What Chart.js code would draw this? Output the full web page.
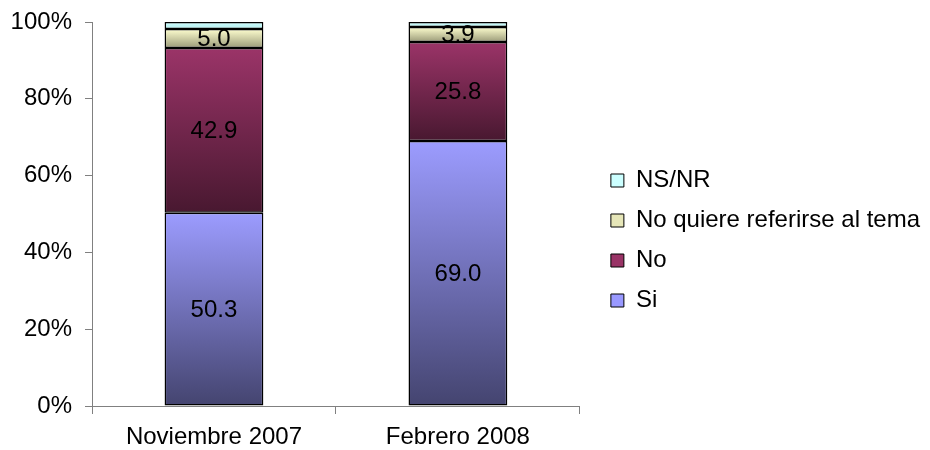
<!DOCTYPE html>
<html>
<head>
<meta charset="utf-8">
<script src="https://cdn.jsdelivr.net/npm/chart.js@4"></script>
<style>
  html, body { margin: 0; padding: 0; background: #fff; }
  #wrap { width: 930px; height: 450px; }
</style>
</head>
<body>
<div id="wrap"><canvas id="encuesta"></canvas></div>
<script>
const categorias = ["Noviembre 2007", "Febrero 2008"];
const si = [50.3, 69.0];
const no = [42.9, 25.8];
const noQuiere = [5.0, 3.9];
const nsnr = [1.8, 1.3];
const yTicks = [0, 20, 40, 60, 80, 100];

const FONT = "'Liberation Sans', Arial, sans-serif";
const series = [si, no, noQuiere, nsnr];
// gradient top -> bottom for each series
const colores = [
    ["#9c9cff", "#44446f"],
    ["#9b3468", "#481830"],
    ["#ffffd0", "#9a9a78"],
    ["#ccffff", "#b8eeee"],
];
const legendColors = ["#9999ff", "#993366", "#e6e6b8", "#ccffff"];

function gradiente(ctx) {
    const chart = ctx.chart;
    const i = ctx.datasetIndex;
    const j = ctx.dataIndex;
    const y = chart.scales && chart.scales.y;
    if (ctx.type !== "data" || !y || y.top === undefined) return legendColors[i];
    let base = 0;
    for (let k = 0; k < i; k++) base += series[k][j];
    const top = y.getPixelForValue(base + series[i][j]);
    const bottom = y.getPixelForValue(base);
    const g = chart.ctx.createLinearGradient(0, top, 0, bottom);
    g.addColorStop(0, colores[i][0]);
    g.addColorStop(1, colores[i][1]);
    return g;
}

const etiquetas = {
    id: "etiquetas",
    afterDatasetsDraw(chart) {
        const c = chart.ctx;
        c.save();
        c.font = "24px " + FONT;
        c.fillStyle = "#000";
        c.textAlign = "center";
        c.textBaseline = "middle";
        chart.data.datasets.forEach((ds, i) => {
            if (i === 3) return;
            chart.getDatasetMeta(i).data.forEach((bar, j) => {
                const yc = (bar.y + bar.base) / 2;
                c.fillText(ds.data[j].toFixed(1), bar.x, yc + 1);
            });
        });
        c.restore();
    },
};

const mkDs = (label, data) => ({
    label: label,
    data: data,
    backgroundColor: gradiente,
    borderColor: "#000",
    borderWidth: 1.5,
    borderSkipped: false,
    inflateAmount: 0,
    categoryPercentage: 1,
    barPercentage: 0.405,
});

new Chart(document.getElementById("encuesta").getContext("2d"), {
    type: "bar",
    data: {
        labels: categorias,
        datasets: [
            mkDs("Si", si),
            mkDs("No", no),
            mkDs("No quiere referirse al tema", noQuiere),
            mkDs("NS/NR", nsnr),
        ],
    },
    options: {
        responsive: true,
        maintainAspectRatio: false,
        animation: false,
        layout: { padding: 0 },
        scales: {
            x: {
                stacked: true,
                grid: {
                    offset: true,
                    drawOnChartArea: false,
                    tickLength: 8,
                    color: "#808080",
                },
                border: { color: "#808080", width: 1 },
                ticks: {
                    color: "#000",
                    padding: 9,
                    font: { size: 24, family: FONT },
                },
                afterFit: (axis) => {
                    axis.height = 44;
                },
            },
            y: {
                stacked: true,
                min: 0,
                max: 100,
                afterBuildTicks: (axis) => {
                    axis.ticks = yTicks.map((v) => ({ value: v }));
                },
                grid: {
                    drawOnChartArea: false,
                    tickLength: 7,
                    color: "#808080",
                },
                border: { color: "#808080", width: 1 },
                ticks: {
                    color: "#000",
                    padding: 13,
                    callback: (v) => v + "%",
                    font: { size: 24, family: FONT },
                },
                afterFit: (axis) => {
                    axis.width = 92;
                    axis.paddingTop = 22;
                    axis.paddingBottom = 0;
                },
            },
            // empty axis only to keep a gap between plot and legend
            gap: {
                position: "right",
                display: true,
                grid: { display: false },
                border: { display: false },
                ticks: { display: false },
                afterFit: (axis) => {
                    axis.width = 15;
                },
            },
        },
        plugins: {
            legend: {
                position: "right",
                reverse: true,
                maxWidth: 420,
                title: { display: true, text: "", font: { size: 10, lineHeight: 1 }, padding: 10.5 },
                labels: {
                    boxWidth: 13,
                    boxHeight: 13,
                    padding: 16,
                    color: "#000",
                    font: { size: 24, family: FONT },
                    generateLabels: (chart) =>
                        chart.data.datasets.map((ds, i) => ({
                            text: ds.label,
                            fillStyle: legendColors[i],
                            strokeStyle: "#000",
                            fontColor: "#000",
                            lineWidth: 1,
                            datasetIndex: i,
                            hidden: false,
                        })),
                },
            },
            tooltip: { enabled: false },
        },
    },
    plugins: [etiquetas],
});
</script>
</body>
</html>
